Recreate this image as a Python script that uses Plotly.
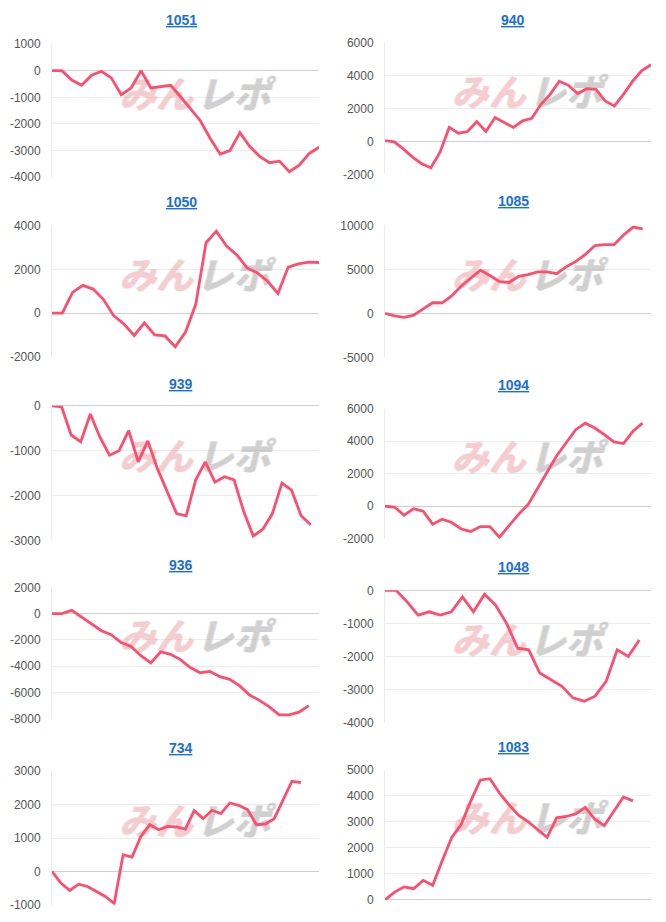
import plotly.graph_objects as go

# ---------------- data ----------------
titles = ["1051", "940", "1050", "1085", "939", "1094", "936", "1048", "734", "1083"]

s1051 = [0, 0, -350, -550, -170, -20, -270, -900, -650, 0, -650, -600, -550, -980,
         -1450, -1880, -2550, -3130, -3000, -2330, -2850, -3220, -3460, -3400, -3800,
         -3550, -3120, -2880]
s940 = [50, -30, -450, -950, -1350, -1600, -650, 850, 500, 600, 1200, 600, 1450, 1150,
        850, 1250, 1400, 2250, 2850, 3650, 3400, 2900, 3200, 3150, 2450, 2150, 2850,
        3650, 4300, 4650]
s1050 = [0, 0, 950, 1270, 1100, 630, -120, -500, -1030, -450, -1000, -1050, -1550, -870,
         400, 3230, 3760, 3080, 2670, 2070, 1840, 1460, 900, 2110, 2260, 2340, 2320]
s1085 = [0, -300, -450, -200, 500, 1200, 1200, 2000, 3100, 4000, 4900, 4300, 3600, 3500,
         4200, 4400, 4700, 4700, 4500, 5300, 5900, 6700, 7700, 7800, 7800, 8900, 9800, 9600]
s939 = [0, -20, -650, -800, -180, -700, -1100, -1000, -550, -1250, -780, -1400, -1900,
        -2400, -2450, -1650, -1250, -1700, -1580, -1650, -2350, -2900, -2750, -2400,
        -1720, -1880, -2450, -2650]
s1094 = [0, -50, -550, -150, -300, -1100, -800, -1000, -1400, -1550, -1250, -1250, -1900,
         -1200, -500, 100, 1100, 2100, 3100, 3900, 4700, 5100, 4800, 4400, 3950, 3850,
         4600, 5100]
s936 = [0, 0, 250, -250, -800, -1300, -1600, -2200, -2500, -3200, -3750, -2900, -3100,
        -3500, -4100, -4500, -4400, -4800, -5000, -5500, -6200, -6600, -7100, -7700,
        -7700, -7500, -7000]
s1048 = [0, 0, -350, -750, -650, -750, -650, -200, -650, -120, -450, -1000, -1750, -1800,
         -2500, -2700, -2900, -3250, -3350, -3200, -2750, -1800, -2000, -1500]
s734 = [0, -350, -570, -380, -450, -600, -750, -960, 500, 430, 1050, 1400, 1250, 1350,
        1330, 1270, 1820, 1580, 1830, 1730, 2050, 1980, 1850, 1400, 1420, 1580, 2150,
        2700, 2660]
s1083 = [0, 300, 500, 430, 750, 560, 1500, 2400, 2900, 3800, 4600, 4650, 4100, 3650,
         3250, 3000, 2700, 2400, 3150, 3200, 3300, 3550, 3100, 2850, 3400, 3950, 3800]

series = [s1051, s940, s1050, s1085, s939, s1094, s936, s1048, s734, s1083]

y_min = [-4000, -2000, -2000, -5000, -3000, -2000, -8000, -4000, -1000, 0]
y_max = [1000, 6000, 4000, 10000, 0, 6000, 2000, 0, 3000, 5000]
y_step = [1000, 2000, 2000, 5000, 1000, 2000, 2000, 1000, 1000, 1000]

watermark_parts = ["みん", "レポ"]

# ---------------- layout (pixels) ----------------
W, H = 666, 922
tops = [37.7, 36, 222.3, 221.7, 405, 407.7, 589.3, 592.3, 776, 774.3]
bots = [172.7, 170, 355, 355.7, 541.7, 540, 722.7, 726.7, 911.7, 906.7]
title_y = [13, 13, 198, 197, 383, 384, 567, 569, 752, 751]
end_frac = [1.0, 1.0, 1.0, 0.9686, 0.969, 0.968, 0.962, 0.956, 0.932, 0.932]
xl = {0: (52, 319), 1: (385, 651)}
title_x = {0: 181, 1: 513}

wm_fx = [0.39, 0.68]
wm_fy = 0.59
PINK = "rgba(236,170,174,0.42)"
GREY = "rgba(175,175,175,0.42)"
wm_colors = [PINK, GREY]
wm_shadows = ["1px 0 0 %s, -1px 0 0 %s" % (c, c) for c in wm_colors]

LINE = "#ff4d6d"
fig = go.Figure()
layout = dict(
    width=W, height=H, autosize=False,
    margin=dict(l=0, r=0, t=0, b=0),
    paper_bgcolor="white", plot_bgcolor="white",
    showlegend=False,
)
annotations = []
for i, (t, vals) in enumerate(zip(titles, series)):
    col = i % 2
    k = "" if i == 0 else str(i + 1)
    n = len(vals)
    xs = list(range(n))
    xmax = (n - 1) / end_frac[i]
    for part, fx, c, sh in zip(watermark_parts, wm_fx, wm_colors, wm_shadows):
        fig.add_trace(go.Scatter(
            x=[xmax * fx], y=[y_min[i] + wm_fy * (y_max[i] - y_min[i])],
            mode="text", text=[part], textposition="middle center",
            textfont=dict(family="Noto Sans CJK JP Black, Noto Sans CJK JP",
                          size=37, color=c, weight=900, style="italic", shadow=sh),
            xaxis="x" + k, yaxis="y" + k, hoverinfo="skip",
        ))
    fig.add_trace(go.Scatter(
        x=xs, y=vals, mode="lines",
        line=dict(color=LINE, width=2.8),
        xaxis="x" + k, yaxis="y" + k, hoverinfo="skip",
    ))
    x0, x1 = xl[col]
    layout["xaxis" + k] = dict(
        domain=[x0 / W, x1 / W], range=[0, xmax],
        showgrid=False, zeroline=False, showticklabels=False, ticks="",
        showline=False, anchor="y" + k, fixedrange=True,
    )
    tv = list(range(y_min[i], y_max[i] + 1, y_step[i]))
    layout["yaxis" + k] = dict(
        domain=[1 - bots[i] / H, 1 - tops[i] / H],
        range=[y_min[i], y_max[i]],
        tickvals=tv, ticktext=[str(v) for v in tv],
        showgrid=True, gridcolor="#ececec", gridwidth=1,
        zeroline=True, zerolinecolor="#cfcfcf", zerolinewidth=1,
        showline=True, linecolor="#ececec", linewidth=1,
        ticks="", ticklabelstandoff=8,
        tickfont=dict(family="Liberation Sans, Arial", size=12, color="#555555"),
        anchor="x" + k, fixedrange=True,
    )
    annotations.append(dict(
        text="<u>%s</u>" % t, x=title_x[col] / W, y=1 - title_y[i] / H,
        xref="paper", yref="paper", xanchor="center", yanchor="middle",
        showarrow=False,
        font=dict(family="Liberation Sans, Arial", size=14, color="#1a6fd6",
                  weight="bold"),
    ))

layout["annotations"] = annotations
fig.update_layout(**layout)
fig.write_html("out.html")
